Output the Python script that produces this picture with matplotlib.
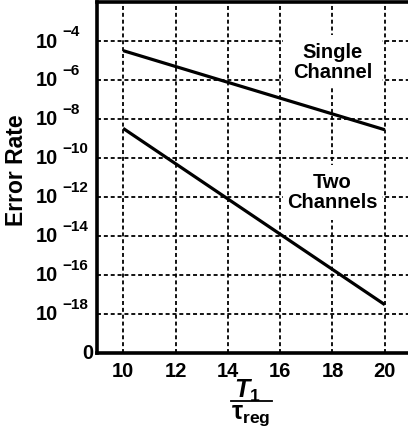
import matplotlib
matplotlib.use("Agg")
import matplotlib.pyplot as plt
from matplotlib.lines import Line2D
from matplotlib.patches import Rectangle
from matplotlib.ticker import FixedLocator, NullFormatter

plt.rcParams['font.family'] = ['Liberation Sans', 'DejaVu Sans']
plt.rcParams['font.weight'] = 'bold'
plt.rcParams['mathtext.fontset'] = 'custom'
plt.rcParams['mathtext.rm'] = 'Liberation Sans:bold'
plt.rcParams['mathtext.bf'] = 'Liberation Sans:bold'
plt.rcParams['mathtext.it'] = 'Liberation Sans:italic:bold'
plt.rcParams['mathtext.bfit'] = 'Liberation Sans:italic:bold'

# Error rate versus T1 / tau_reg
t_ratio = [10, 20]
single_channel = [3.2e-5, 2.8e-9]
two_channels = [3.3e-9, 3.0e-18]

x_ticks = [10, 12, 14, 16, 18, 20]
y_exponents = [-18, -16, -14, -12, -10, -8, -6, -4]
y_floor = 1e-20

W, H = 408, 435
fig = plt.figure(figsize=(W / 100, H / 100), dpi=100)
ax_w_px = 314
ax = fig.add_axes([97 / W, 81 / H, ax_w_px / W, 351 / H])

ax.plot(t_ratio, single_channel, color='black', lw=2.3, solid_capstyle='butt', zorder=3)
ax.plot(t_ratio, two_channels, color='black', lw=2.3, solid_capstyle='butt', zorder=3)

ax.set_yscale('log')
ax.set_xlim(9, 21)
ax.set_ylim(y_floor, 1e-2)
ax.xaxis.set_major_locator(FixedLocator(x_ticks))
ax.yaxis.set_major_locator(FixedLocator([y_floor] + [10.0 ** e for e in y_exponents]))
ax.yaxis.set_major_formatter(NullFormatter())
ax.yaxis.set_minor_locator(FixedLocator([]))
ax.yaxis.set_minor_formatter(NullFormatter())
ax.tick_params(axis='both', length=0, labelsize=14.5, pad=6)
for lbl in ax.get_xticklabels():
    lbl.set_fontweight('bold')

# power-of-ten labels on the y axis: "10" with a raised exponent
ytr = ax.get_yaxis_transform()
px = 1.0 / ax_w_px
decades_per_px = 2.0 / 39.0
for e in y_exponents:
    ax.text(-39 * px, 10.0 ** e, '10', transform=ytr, ha='right', va='center',
            fontsize=14.5, fontweight='bold', clip_on=False)
    ax.text(-35 * px, 10.0 ** (e + 10 * decades_per_px), '\u2212%d' % (-e), transform=ytr,
            ha='left', va='center', fontsize=11, fontweight='bold', clip_on=False)
ax.text(-4 * px, y_floor, '0', transform=ytr, ha='right', va='center',
        fontsize=14.5, fontweight='bold', clip_on=False)

ax.grid(True, color='black', lw=1.3, linestyle=(0, (2.2, 1.6)))
ax.set_axisbelow(True)
for side in ['left', 'bottom', 'top']:
    ax.spines[side].set_linewidth(2.6)
ax.spines['right'].set_visible(False)

fig.text(17 / W, 1 - 170 / H, 'Error Rate', rotation=90, ha='center', va='center',
         fontsize=16.5, fontweight='bold')

# white panels behind the curve labels
ax.add_patch(Rectangle((16.1, 10 ** -6.43), 3.8, 10 ** -3.71 - 10 ** -6.43,
                       facecolor='white', edgecolor='none', zorder=1))
ax.add_patch(Rectangle((16.1, 10 ** -13.19), 3.8, 10 ** -10.37 - 10 ** -13.19,
                       facecolor='white', edgecolor='none', zorder=1))
ax.text(18, 10 ** -5.05, 'Single\nChannel', ha='center', va='center',
        fontsize=14.5, fontweight='bold', linespacing=1.05, zorder=4)
ax.text(18, 10 ** -11.7, 'Two\nChannels', ha='center', va='center',
        fontsize=14.5, fontweight='bold', linespacing=1.05, zorder=4)

# fraction-style x label
cx = 251 / W
fig.text(cx - 0.01, 1 - 391 / H, r'$\mathbfit{T}_{\mathbf{1}}$', ha='center', va='center', fontsize=18)
fig.add_artist(Line2D([231 / W, 272 / W], [1 - 402 / H, 1 - 402 / H], color='black', lw=1.3,
                      transform=fig.transFigure))
fig.text(cx, 1 - 416 / H, r'$\mathbf{τ}_{\mathbf{reg}}$', ha='center', va='center', fontsize=18)

fig.savefig('out.png', dpi=100)
